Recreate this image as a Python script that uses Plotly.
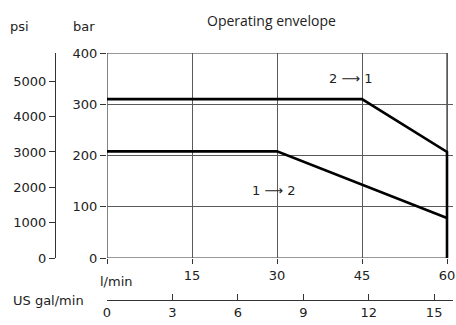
import plotly.graph_objects as go

# operating envelope, bar vs l/min
flow_21 = [0, 45, 60, 60]
bar_21 = [310, 310, 207, 0]
flow_12 = [0, 30, 60]
bar_12 = [208, 208, 78]

bar_ticks = [0, 100, 200, 300, 400]
psi_ticks = [0, 1000, 2000, 3000, 4000, 5000]
lmin_ticks = [0, 15, 30, 45, 60]
lmin_text = ["", "15", "30", "45", "60"]
gal_ticks = [0, 3, 6, 9, 12, 15]

PSI_PER_BAR = 14.5038
L_PER_GAL = 3.78541
X_MAX = 60

W, H = 456, 325
FONT = "DejaVu Sans"
GRID = "#5a5a5a"
BOX = "#333333"


def px_x(p):
    return p / W


def px_y(p):
    return 1 - p / H


fig = go.Figure()
fig.add_trace(go.Scatter(x=flow_21, y=bar_21, mode="lines",
                         line=dict(color="black", width=2.6), showlegend=False))
fig.add_trace(go.Scatter(x=flow_12, y=bar_12, mode="lines",
                         line=dict(color="black", width=2.6), showlegend=False))
# dummy traces to make the extra axes show
fig.add_trace(go.Scatter(x=[None], y=[None], yaxis="y2", showlegend=False))
fig.add_trace(go.Scatter(x=[None], y=[None], xaxis="x2", showlegend=False))

# plot area runs a little past 60 l/min so the thick line at 60 isn't clipped
x_left, x_right = 107, 447
x_extra = 1.0
x_dom_main = [px_x(x_left), px_x(x_right + (x_right - x_left) * x_extra / X_MAX)]
x_dom = [px_x(x_left), px_x(x_right)]
y_dom = [px_y(258), px_y(53)]

common = dict(tickcolor=BOX, zeroline=False, fixedrange=True, automargin=False,
              ticklabeloverflow="allow")

fig.update_layout(
    width=W, height=H,
    margin=dict(l=0, r=0, t=0, b=0),
    paper_bgcolor="white", plot_bgcolor="white",
    font=dict(family=FONT, size=13, color="#222"),
    hovermode=False,
    xaxis=dict(domain=x_dom_main, range=[0, X_MAX + x_extra], tickvals=lmin_ticks,
               ticktext=lmin_text, showgrid=True, gridcolor=GRID, gridwidth=1,
               showline=False, ticks="outside", ticklen=5, anchor="y", **common),
    yaxis=dict(domain=y_dom, range=[0, 400], tickvals=bar_ticks,
               showgrid=True, gridcolor=GRID, gridwidth=1,
               showline=False, ticks="outside", ticklen=6, anchor="x", **common),
    yaxis2=dict(domain=y_dom, range=[0, 400 * PSI_PER_BAR], tickvals=psi_ticks,
                overlaying="y", anchor="free", position=px_x(55), side="left",
                showgrid=False, showline=True, linecolor=BOX, linewidth=1.2,
                ticks="outside", ticklen=6, **common),
    xaxis2=dict(domain=x_dom, range=[0, X_MAX / L_PER_GAL], tickvals=gal_ticks,
                overlaying="x", anchor="free", position=px_y(300), side="bottom",
                showgrid=False, showline=True, linecolor=BOX, linewidth=1.2,
                ticks="inside", ticklen=6, **common),
)

# the box round the chart
fig.add_shape(type="rect", xref="x", yref="y", x0=0, x1=X_MAX, y0=0, y1=400,
              line=dict(color=BOX, width=1.2), layer="below")

notes = [
    ("Operating envelope", 271, 20, "Open Sans", 14),
    ("psi", 19, 27, FONT, 13),
    ("bar", 84, 27, FONT, 13),
    ("l/min", 116, 281, FONT, 13),
    ("US gal/min", 48, 300, FONT, 13),
    ("2 ⟶ 1", 350, 78, FONT, 13),
    ("1 ⟶ 2", 273, 190, FONT, 13),
]
for txt, x, y, fam, size in notes:
    fig.add_annotation(text=txt, x=px_x(x), y=px_y(y), xref="paper", yref="paper",
                       showarrow=False, xanchor="center", yanchor="middle",
                       font=dict(family=fam, size=size, color="#222"))

# drop the default body margin so the figure fills the window exactly
fig.write_html("out.html", config={"displayModeBar": False},
               post_script="document.body.style.margin='0';"
                           "document.body.style.overflow='hidden';")
